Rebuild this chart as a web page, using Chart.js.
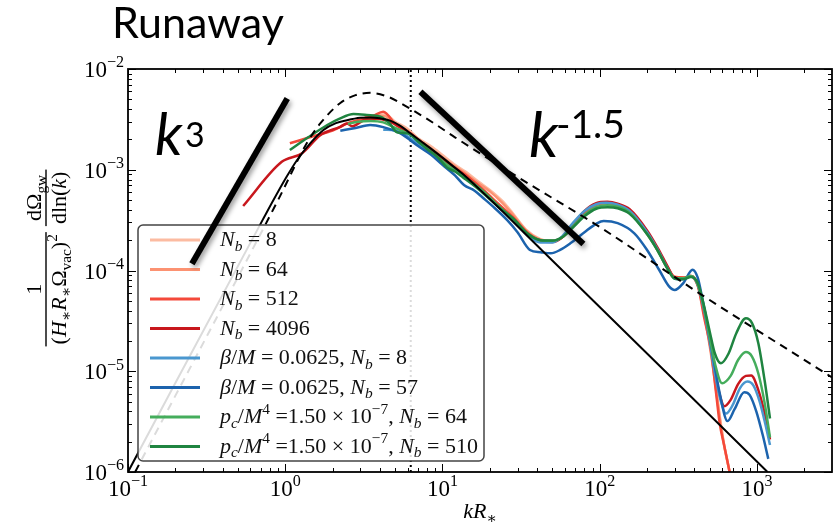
<!DOCTYPE html>
<html>
<head>
<meta charset="utf-8">
<script src="https://cdn.jsdelivr.net/npm/chart.js@4.4.0/dist/chart.umd.min.js"></script>
<style>
  html, body { margin: 0; padding: 0; background: #fff; }
  #wrap { width: 836px; height: 524px; position: relative; }
</style>
</head>
<body>
<div id="wrap"><canvas id="grafico"></canvas></div>
<script>
// ========== dados (k R*, espectro) ==========

const titulo = "Runaway";

const xTickVals = [0.1, 1, 10, 100, 1000];
const xTickLabels = ["10^{−1}", "10^{0}", "10^{1}", "10^{2}", "10^{3}"];
const yTickVals = [1e-6, 1e-5, 1e-4, 1e-3, 1e-2];
const yTickLabels = ["10^{−6}", "10^{−5}", "10^{−4}", "10^{−3}", "10^{−2}"];

const legendLabels = [
  "N_b = 8",
  "N_b = 64",
  "N_b = 512",
  "N_b = 4096",
  "β/M = 0.0625, N_b = 8",
  "β/M = 0.0625, N_b = 57",
  "p_c/M^4 =1.50 × 10^{−7}, N_b = 64",
  "p_c/M^4 =1.50 × 10^{−7}, N_b = 510",
];
const cores = ["#fcbba1", "#fc9272", "#f4493a", "#c8171d", "#4a97cf", "#1c63ad", "#45ad5c", "#1f8440"];

const nb8 = [[3.6,3.3e-3],[4.3,3.55e-3],[5,3.0e-3],[6,2.55e-3],[7,2.05e-3],[8.5,1.7e-3],[10,1.4e-3],[12,1.12e-3],[14,9.6e-4],[17,7.6e-4],[20,6.3e-4],[24,4.9e-4],[28,3.7e-4],[34,2.55e-4],[42,2.05e-4],[50,1.97e-4],[58,2.15e-4],[68,2.8e-4],[80,3.65e-4],[95,4.35e-4],[110,4.55e-4],[130,4.35e-4],[155,3.8e-4],[200,2.3e-4],[235,1.55e-4],[270,1.05e-4],[300,8.6e-5],[340,8.5e-5],[380,8.7e-5],[420,7e-5],[460,4e-5],[500,1.9e-5],[540,8.5e-6],[580,3.6e-6],[620,1.8e-6],[670,1e-6],[700,7e-7]];
const nb64 = [[3.2,3.3e-3],[3.7,3.45e-3],[4.3,3.4e-3],[5,2.85e-3],[6,2.45e-3],[7,2.0e-3],[8.5,1.62e-3],[10,1.33e-3],[12,1.08e-3],[14,9.2e-4],[17,7.3e-4],[20,6.1e-4],[24,4.7e-4],[28,3.6e-4],[34,2.5e-4],[42,2.02e-4],[50,1.96e-4],[58,2.15e-4],[68,2.8e-4],[80,3.65e-4],[95,4.4e-4],[110,4.6e-4],[130,4.4e-4],[155,3.85e-4],[200,2.35e-4],[235,1.57e-4],[270,1.06e-4],[300,8.6e-5],[340,8.5e-5],[380,8.7e-5],[420,7.1e-5],[460,3.8e-5],[500,1.8e-5],[540,8e-6],[580,3.4e-6],[620,1.8e-6],[670,1e-6],[700,7e-7]];
const nb512 = [[1.07,1.83e-3],[1.5,2.15e-3],[2.0,2.45e-3],[2.5,2.9e-3],[3.1,3.2e-3],[3.6,3.4e-3],[4.2,3.77e-3],[5.1,2.75e-3],[6,2.4e-3],[7,2.0e-3],[8.5,1.58e-3],[10,1.3e-3],[12,1.05e-3],[14,8.9e-4],[18,6.4e-4],[23,4.5e-4],[28,3.4e-4],[35,2.35e-4],[42,2.0e-4],[50,1.95e-4],[58,2.15e-4],[68,2.85e-4],[80,3.75e-4],[95,4.5e-4],[110,4.7e-4],[130,4.5e-4],[155,3.9e-4],[200,2.4e-4],[235,1.6e-4],[270,1.08e-4],[300,8.6e-5],[340,8.5e-5],[380,8.8e-5],[420,7.2e-5],[460,3.5e-5],[510,1.6e-5],[550,6e-6],[580,3e-6],[620,1.8e-6],[670,1e-6],[700,7e-7]];
const nb4096 = [[0.54,4.37e-4],[0.95,1.2e-3],[1.28,1.46e-3],[1.67,2.2e-3],[2.24,2.67e-3],[2.47,2.88e-3],[2.66,2.7e-3],[3.16,3.1e-3],[3.8,3.2e-3],[4.5,3.05e-3],[5.4,2.65e-3],[6.3,2.25e-3],[7.2,1.9e-3],[8.5,1.55e-3],[10.5,1.2e-3],[13.5,8.9e-4],[18,6.2e-4],[23,4.3e-4],[28,3.3e-4],[35,2.3e-4],[42,1.97e-4],[50,1.92e-4],[58,2.15e-4],[68,2.9e-4],[80,3.9e-4],[95,4.65e-4],[112,4.8e-4],[130,4.6e-4],[155,4.05e-4],[200,2.5e-4],[235,1.65e-4],[270,1.1e-4],[300,8.4e-5],[340,8.3e-5],[380,8.8e-5],[420,7.2e-5],[460,4.2e-5],[500,2.1e-5],[540,1e-5],[580,5.8e-6],[620,4.5e-6],[680,5.2e-6],[760,7.5e-6],[850,9e-6],[920,9.1e-6],[1020,6.5e-6],[1120,3.8e-6],[1210,2.1e-6]];
const betaNb8 = [[4.2,2.5e-3],[5,2.45e-3],[6,2.15e-3],[7,1.8e-3],[8.5,1.45e-3],[10.5,1.12e-3],[13.5,8.6e-4],[18,6.1e-4],[23,4.2e-4],[28,3.2e-4],[35,2.2e-4],[42,1.9e-4],[50,1.9e-4],[58,2.2e-4],[68,3.0e-4],[80,3.9e-4],[95,4.55e-4],[110,4.7e-4],[130,4.5e-4],[155,3.9e-4],[200,2.4e-4],[235,1.58e-4],[270,1.05e-4],[300,8.3e-5],[340,8.2e-5],[380,8.7e-5],[420,7.2e-5],[460,4.1e-5],[500,2e-5],[540,9.5e-6],[590,5e-6],[635,3.8e-6],[700,4.6e-6],[780,6.8e-6],[870,7.9e-6],[950,7.2e-6],[1040,5e-6],[1130,3e-6],[1210,1.85e-6]];
const betaNb57 = [[2.24,2.44e-3],[2.8,2.6e-3],[3.47,2.78e-3],[4.2,2.65e-3],[5.4,2.3e-3],[7,1.72e-3],[8.5,1.4e-3],[10,1.12e-3],[12,8.8e-4],[13.7,7.05e-4],[16,6.2e-4],[18,5.3e-4],[21,4.3e-4],[25.8,3.16e-4],[30,2.4e-4],[36,1.6e-4],[42,1.52e-4],[48.8,1.48e-4],[56,1.6e-4],[65,1.86e-4],[80,2.4e-4],[96,2.94e-4],[106,3.1e-4],[130,2.95e-4],[166,2.34e-4],[200,1.6e-4],[240,1.0e-4],[275,7e-5],[300,6.4e-5],[340,7.5e-5],[389,1.02e-4],[420,8.5e-5],[450,5.2e-5],[490,2.6e-5],[530,1.3e-5],[580,6e-6],[650,3.2e-6],[720,4.2e-6],[830,6.2e-6],[900,5.8e-6],[990,4e-6],[1090,2.3e-6],[1180,1.35e-6]];
const pcNb64 = [[2.5,2.85e-3],[2.9,3.0e-3],[3.5,3.05e-3],[4.2,2.95e-3],[5,2.6e-3],[6.3,2.2e-3],[7.2,1.85e-3],[8.5,1.5e-3],[10.5,1.15e-3],[13.5,8.7e-4],[18,6.2e-4],[23,4.3e-4],[28,3.3e-4],[35,2.3e-4],[42,2.0e-4],[50,1.97e-4],[58,2.15e-4],[68,2.75e-4],[80,3.55e-4],[95,4.25e-4],[112,4.45e-4],[130,4.3e-4],[155,3.75e-4],[200,2.3e-4],[235,1.55e-4],[270,1.04e-4],[300,8.4e-5],[340,8.4e-5],[380,8.8e-5],[420,7.3e-5],[460,4.3e-5],[500,2.2e-5],[540,1.2e-5],[600,7.6e-6],[680,9e-6],[760,1.3e-5],[850,1.55e-5],[930,1.4e-5],[1020,9.5e-6],[1120,4.8e-6],[1210,2.2e-6]];
const pcNb510 = [[1.07,1.57e-3],[1.4,2.1e-3],[1.85,2.78e-3],[2.2,3.2e-3],[2.72,3.57e-3],[3.3,3.5e-3],[4.03,3.36e-3],[4.6,2.9e-3],[5.14,2.35e-3],[6,2.3e-3],[7,1.9e-3],[8,1.6e-3],[9.25,1.35e-3],[10.7,1.05e-3],[12,9.6e-4],[13.5,8.4e-4],[16,6.9e-4],[18,5.9e-4],[23,4.2e-4],[28,3.3e-4],[35,2.3e-4],[42,2.0e-4],[50,1.98e-4],[58,2.15e-4],[68,2.7e-4],[80,3.45e-4],[95,4.1e-4],[112,4.25e-4],[130,4.15e-4],[155,3.65e-4],[200,2.3e-4],[235,1.55e-4],[270,1.04e-4],[300,8.3e-5],[340,8.2e-5],[380,8.6e-5],[420,7.5e-5],[460,4.5e-5],[500,2.5e-5],[540,1.5e-5],[590,1.2e-5],[660,1.5e-5],[740,2.4e-5],[850,3.35e-5],[930,3.0e-5],[1020,1.9e-5],[1120,8e-6],[1210,3.4e-6]];

// curvas de referencia em preto
const modeloSolido = [[0.1,1e-6],[0.72,3.2e-4],[1.02,8.5e-4],[1.19,1.25e-3],[1.45,1.85e-3],[1.75,2.48e-3],[2.1,2.9e-3],[2.47,3.1e-3],[3,3.28e-3],[3.47,3.31e-3],[4,3.24e-3],[4.65,3.07e-3],[5.4,2.72e-3],[6.25,2.3e-3],[7.2,1.95e-3],[8.4,1.63e-3],[10,1.32e-3],[11.7,1.08e-3],[13.7,8.85e-4],[43,1.58e-4],[1167,1e-6]];
const modeloTracejado = [[0.111,1e-6],[0.9,5e-4],[1.37,1.83e-3],[1.67,2.88e-3],[2.24,4.6e-3],[2.8,5.5e-3],[3.47,5.8e-3],[4.5,5.3e-3],[5.4,4.6e-3],[6.3,4.0e-3],[8.8,2.9e-3],[12,2.1e-3],[30,8.5e-4],[100,2.7e-4],[440,5.8e-5],[3000,8.7e-6]];
const kDoisPi = [[6.283,1e-6],[6.283,1e-2]];

// retas de inclinacao desenhadas a mao
const retaK3 = [[0.255,1.17e-4],[1.03,5.1e-3]];
const retaKm15 = [[7.24,5.95e-3],[78.7,1.83e-4]];

const series = [nb8, nb64, nb512, nb4096, betaNb8, betaNb57, pcNb64, pcNb510];

const SERIF = "'Liberation Serif', 'DejaVu Serif', serif";
const SANS = "Lato, 'Open Sans', sans-serif";

// ========== texto matematico simples ==========
function parseRich(s, level, upright) {
  const out = [];
  let i = 0;
  while (i < s.length) {
    const c = s[i];
    if (c === "_" || c === "^") {
      const lv = level + (c === "_" ? -1 : 1);
      i++;
      let grp;
      if (s[i] === "{") {
        let d = 1, j = i + 1;
        while (j < s.length && d > 0) { if (s[j] === "{") d++; if (s[j] === "}") d--; j++; }
        grp = s.slice(i + 1, j - 1);
        i = j;
      } else {
        grp = s[i];
        i++;
      }
      out.push(...parseRich(grp, lv, upright));
    } else if (c === "`") {
      const j = s.indexOf("`", i + 1);
      out.push(...parseRich(s.slice(i + 1, j), level, true));
      i = j + 1;
    } else {
      out.push({ t: c, it: !upright && /[A-Za-zβ]/.test(c), lv: level });
      i++;
    }
  }
  return out;
}

function fontOf(s, size) {
  const sz = s.lv === 0 ? size : size * 0.7;
  return (s.it ? "italic " : "") + sz.toFixed(1) + "px " + SERIF;
}

function richWidth(ctx, text, size) {
  let w = 0;
  parseRich(text, 0, false).forEach((s) => { ctx.font = fontOf(s, size); w += ctx.measureText(s.t).width; });
  return w;
}

function drawRich(ctx, text, x, y, size, align) {
  const segs = parseRich(text, 0, false);
  let w = 0;
  segs.forEach((s) => { ctx.font = fontOf(s, size); s.w = ctx.measureText(s.t).width; w += s.w; });
  let cx = align === "center" ? x - w / 2 : align === "right" ? x - w : x;
  ctx.textAlign = "left";
  ctx.textBaseline = "alphabetic";
  segs.forEach((s) => {
    ctx.font = fontOf(s, size);
    const dy = s.lv > 0 ? -0.42 * size : s.lv < 0 ? 0.22 * size : 0;
    ctx.fillText(s.t, cx, y + dy);
    cx += s.w;
  });
  return w;
}

function minorVals(min, max) {
  const v = [];
  for (let d = Math.floor(Math.log10(min)); d <= Math.ceil(Math.log10(max)); d++) {
    for (let m = 2; m <= 9; m++) {
      const val = m * Math.pow(10, d);
      if (val > min && val < max) v.push(val);
    }
  }
  return v;
}

// ========== plugin: eixos, legenda, anotacoes ==========
const decoracao = {
  id: "decoracao",
  afterDatasetsDraw(chart) {
    const ctx = chart.ctx;
    const a = chart.chartArea;
    const xs = chart.scales.x;
    const ys = chart.scales.y;

    // legenda
    ctx.save();
    ctx.beginPath();
    ctx.roundRect(138, 225, 346, 236, 5);
    ctx.fillStyle = "rgba(255,255,255,0.86)";
    ctx.fill();
    ctx.strokeStyle = "#444";
    ctx.lineWidth = 1.5;
    ctx.stroke();
    legendLabels.forEach((lab, i) => {
      const y = 240 + i * 29.5;
      ctx.beginPath();
      ctx.moveTo(150, y);
      ctx.lineTo(200, y);
      ctx.strokeStyle = cores[i];
      ctx.lineWidth = 3;
      ctx.stroke();
      ctx.fillStyle = "#111";
      drawRich(ctx, lab, 220, y + 6, 22, "left");
    });
    ctx.restore();

    // retas k^3 e k^-1.5
    ctx.save();
    ctx.shadowColor = "rgba(0,0,0,0.4)";
    ctx.shadowBlur = 5;
    ctx.shadowOffsetX = 2;
    ctx.shadowOffsetY = 3;
    ctx.strokeStyle = "#000";
    ctx.lineWidth = 6;
    [retaK3, retaKm15].forEach((r) => {
      ctx.beginPath();
      ctx.moveTo(xs.getPixelForValue(r[0][0]), ys.getPixelForValue(r[0][1]));
      ctx.lineTo(xs.getPixelForValue(r[1][0]), ys.getPixelForValue(r[1][1]));
      ctx.stroke();
    });
    ctx.restore();

    ctx.save();
    ctx.fillStyle = "#000";
    ctx.textAlign = "left";
    ctx.textBaseline = "alphabetic";
    ctx.font = "italic 58px " + SANS;
    ctx.fillText("k", 155, 155);
    ctx.font = "34px " + SANS;
    ctx.fillText("3", 185, 147);
    ctx.font = "italic 62px " + SANS;
    ctx.fillText("k", 529, 157);
    ctx.font = "39px " + SANS;
    ctx.fillText("-1.5", 556, 138);
    ctx.restore();

    // moldura e ticks para dentro
    ctx.save();
    ctx.strokeStyle = "#000";
    ctx.lineWidth = 1;
    const tickX = (v, len) => {
      const p = Math.round(xs.getPixelForValue(v)) + 0.5;
      ctx.beginPath();
      ctx.moveTo(p, a.bottom); ctx.lineTo(p, a.bottom - len);
      ctx.moveTo(p, a.top); ctx.lineTo(p, a.top + len);
      ctx.stroke();
    };
    const tickY = (v, len) => {
      const p = Math.round(ys.getPixelForValue(v)) + 0.5;
      ctx.beginPath();
      ctx.moveTo(a.left, p); ctx.lineTo(a.left + len, p);
      ctx.moveTo(a.right, p); ctx.lineTo(a.right - len, p);
      ctx.stroke();
    };
    minorVals(xs.min, xs.max).forEach((v) => tickX(v, 4));
    xTickVals.forEach((v) => tickX(v, 8));
    minorVals(ys.min, ys.max).forEach((v) => tickY(v, 4));
    yTickVals.forEach((v) => tickY(v, 8));
    ctx.lineWidth = 1.8;
    ctx.strokeRect(a.left, a.top, a.right - a.left, a.bottom - a.top);
    ctx.restore();

    // rotulos dos ticks
    ctx.save();
    ctx.fillStyle = "#000";
    xTickVals.forEach((v, i) => drawRich(ctx, xTickLabels[i], xs.getPixelForValue(v), a.bottom + 24, 23, "center"));
    yTickVals.forEach((v, i) => drawRich(ctx, yTickLabels[i], a.left - 4, ys.getPixelForValue(v) + 8, 23, "right"));
    drawRich(ctx, "kR_∗", (a.left + a.right) / 2, 518, 22, "center");

    // rotulo do eixo y (duas fracoes, girado)
    const tam = 22;
    const fr = [["1", "(H_∗R_∗Ω_{`vac`})^2"], ["`d`Ω_{`gw`}", "`dln`(k)"]];
    const larg = fr.map((f) => Math.max(richWidth(ctx, f[0], tam), richWidth(ctx, f[1], tam)) + 4);
    const total = larg[0] + 6 + larg[1];
    ctx.translate(46, 258);
    ctx.rotate(-Math.PI / 2);
    let pos = -total / 2;
    fr.forEach((f, i) => {
      const c = pos + larg[i] / 2;
      drawRich(ctx, f[0], c, -5, tam, "center");
      drawRich(ctx, f[1], c, 20, tam, "center");
      ctx.fillRect(pos, -0.7, larg[i], 1.4);
      pos += larg[i] + 6;
    });
    ctx.restore();

    // titulo do slide
    ctx.save();
    ctx.fillStyle = "#000";
    ctx.font = "43px " + SANS;
    ctx.textBaseline = "alphabetic";
    ctx.fillText(titulo, 112, 38);
    ctx.restore();
  },
};

// ========== grafico ==========
function montarDatasets() {
  const ds = [];
  ds.push({ data: modeloSolido.map((p) => ({ x: p[0], y: p[1] })), borderColor: "#000", borderWidth: 2, order: 0, cubicInterpolationMode: "monotone" });
  ds.push({ data: modeloTracejado.map((p) => ({ x: p[0], y: p[1] })), borderColor: "#000", borderWidth: 2, borderDash: [8, 6], order: 1, cubicInterpolationMode: "monotone" });
  ds.push({ data: kDoisPi.map((p) => ({ x: p[0], y: p[1] })), borderColor: "#000", borderWidth: 2, borderDash: [2, 3], order: 30 });
  series.forEach((s, i) => {
    ds.push({
      data: s.map((p) => ({ x: p[0], y: p[1] })),
      borderColor: cores[i],
      borderWidth: 2.5,
      order: 20 - i,
      cubicInterpolationMode: "monotone",
    });
  });
  ds.forEach((d) => { d.showLine = true; d.pointRadius = 0; d.fill = false; });
  return ds;
}

const ctx = document.getElementById("grafico").getContext("2d");
let myChart = new Chart(ctx, {
  type: "scatter",
  data: { datasets: montarDatasets() },
  options: {
    responsive: true,
    maintainAspectRatio: false,
    animation: false,
    layout: { padding: { left: 128, right: 4, top: 69, bottom: 52 } },
    plugins: { legend: { display: false }, tooltip: { enabled: false } },
    scales: {
      x: { type: "logarithmic", min: 0.1, max: 3000, display: false },
      y: { type: "logarithmic", min: 1e-6, max: 1e-2, display: false },
    },
  },
  plugins: [decoracao],
});
</script>
</body>
</html>
